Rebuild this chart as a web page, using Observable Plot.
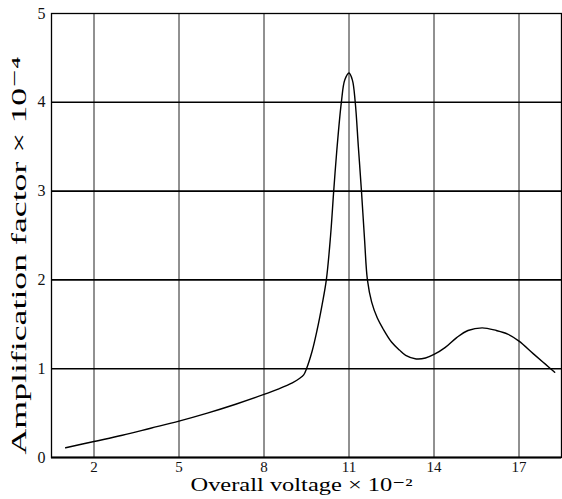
<!DOCTYPE html>
<html>
<head>
<meta charset="utf-8">
<script src="https://cdn.jsdelivr.net/npm/d3@7"></script>
<script src="https://cdn.jsdelivr.net/npm/@observablehq/plot@0.6"></script>
<style>
  html, body { margin: 0; padding: 0; background: #fff; }
  svg { display: block; }
</style>
</head>
<body>
<div id="chart"></div>
<script>
// Overall voltage (×10^-2) and amplification factor (×10^-4)
const voltage = [1.0, 2, 3, 4, 5, 6, 7, 8, 8.5, 9.0, 9.25, 9.4, 9.5, 9.7, 9.87, 10.05, 10.2, 10.35, 10.46, 10.57, 10.73, 10.85, 11.0, 11.12, 11.22, 11.33, 11.44, 11.55, 11.65, 11.8, 12.0, 12.2, 12.5, 12.78, 13.0, 13.37, 13.7, 14.0, 14.4, 14.8, 15.2, 15.7, 16.2, 16.6, 17.0, 17.5, 17.9, 18.26];
const amplification = [0.11, 0.18, 0.25, 0.33, 0.41, 0.50, 0.60, 0.71, 0.77, 0.84, 0.89, 0.93, 1.0, 1.2, 1.43, 1.72, 2.0, 2.5, 3.0, 3.46, 4.0, 4.25, 4.33, 4.25, 4.0, 3.5, 3.0, 2.45, 2.0, 1.75, 1.57, 1.45, 1.30, 1.21, 1.15, 1.11, 1.12, 1.16, 1.24, 1.35, 1.43, 1.46, 1.43, 1.39, 1.31, 1.17, 1.06, 0.96];
const xTicks = [2, 5, 8, 11, 14, 17];
const yTicks = [0, 1, 2, 3, 4, 5];
const xLabel = "Overall voltage × 10⁻²";
const yLabel = "Amplification factor × 10⁻⁴";

const data = voltage.map((v, i) => ({x: v, y: amplification[i]}));
const font = "'Liberation Serif', 'DejaVu Serif', serif";

const chart = Plot.plot({
  width: 562,
  height: 499,
  marginLeft: 51,
  marginRight: 1,
  marginTop: 13,
  marginBottom: 42,
  style: {fontFamily: font, fontSize: "15px", color: "#111", background: "#fff"},
  x: {domain: [0.5, 18.5], ticks: xTicks},
  y: {domain: [0, 5], ticks: yTicks},
  marks: [
    Plot.ruleX(xTicks, {stroke: "#222", strokeWidth: 1}),
    Plot.ruleY([1, 2, 3, 4], {stroke: "#000", strokeWidth: 1.6}),
    Plot.frame({stroke: "#000", strokeWidth: 1.3}),
    Plot.ruleY([0], {stroke: "#000", strokeWidth: 2.2}),
    Plot.line(data, {x: "x", y: "y", curve: "catmull-rom", stroke: "#000", strokeWidth: 1.4}),
    Plot.axisX({ticks: xTicks, tickSize: 0, tickPadding: 4, label: null, fontSize: 15, tickFormat: "d"}),
    Plot.axisY({ticks: yTicks, tickSize: 0, tickPadding: 6, label: null, fontSize: 16, tickFormat: "d"}),
    Plot.text([xLabel], {frameAnchor: "bottom", textAnchor: "middle", dx: -5, dy: 33, fontSize: 18, fill: "#000", text: d => d, className: "xlab"}),
    Plot.text([yLabel], {frameAnchor: "left", textAnchor: "middle", dx: -33, dy: 20, rotate: -90, fontSize: 22, fill: "#000", text: d => d, className: "ylab"})
  ]
});
// stretch the axis titles to the length they have in the reference
d3.select(chart).selectAll("g.xlab text").attr("textLength", 222).attr("lengthAdjust", "spacingAndGlyphs");
d3.select(chart).selectAll("g.ylab text").attr("textLength", 398).attr("lengthAdjust", "spacingAndGlyphs");
document.getElementById("chart").appendChild(chart);
</script>
</body>
</html>
